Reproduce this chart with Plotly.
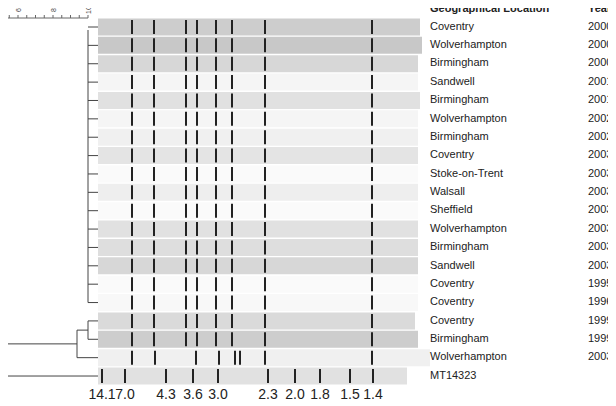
import plotly.graph_objects as go

## Lane info, top to bottom
locations = ['Coventry', 'Wolverhampton', 'Birmingham', 'Sandwell', 'Birmingham', 'Wolverhampton',
             'Birmingham', 'Coventry', 'Stoke-on-Trent', 'Walsall', 'Sheffield', 'Wolverhampton',
             'Birmingham', 'Sandwell', 'Coventry', 'Coventry', 'Coventry', 'Birmingham',
             'Wolverhampton', 'MT14323']
years = ['2000', '2000', '2000', '2001', '2001', '2002', '2002', '2003', '2003', '2003', '2003',
         '2003', '2003', '2003', '1995', '1996', '1999', '1999', '2003', '']
lane_shade = [205, 200, 215, 245, 225, 245, 240, 228, 250, 238, 250, 225, 222, 215, 250, 248,
              218, 205, 240, 225]
lane_end = [420, 422, 418, 418, 420, 418, 418, 418, 418, 418, 418, 418, 418, 418, 418, 418, 415,
            418, 430, 407]

common_bands = [132, 154, 186, 197, 216, 232, 265, 372]
lane_bands = [common_bands] * 18 + [[132, 155, 196, 219, 235, 240, 265, 372],
                                    [102, 125, 166, 193, 218, 268, 295, 320, 350, 373]]

ladder_labels = ['14.1', '7.0', '4.3', '3.6', '3.0', '2.3', '2.0', '1.8', '1.5', '1.4']
ladder_pos = [102, 125, 166, 193, 218, 268, 295, 320, 350, 373]

scale_labels = ['60', '80', '100']
scale_pos = [18, 53, 88]

row_y = [27 + i * 18.37 for i in range(len(locations))]

fig = go.Figure()

## gel lanes
for i, y in enumerate(row_y):
    g = lane_shade[i]
    fig.add_trace(go.Scatter(x=[98, lane_end[i]], y=[y, y], mode='lines',
                             line=dict(color=f'rgb({g},{g},{g})', width=17), hoverinfo='skip'))
    bx, by = [], []
    for b in lane_bands[i]:
        bx += [b, b, None]
        by += [y - 7, y + 7, None]
    fig.add_trace(go.Scatter(x=bx, y=by, mode='lines', line=dict(color='#222', width=2),
                             hoverinfo='skip'))

## dendrogram
dx, dy = [], []
for y in row_y[:19]:
    dx += [88, 98, None]
    dy += [y, y, None]
dx += [88, 88, None, 88, 88, None, 77, 88, None, 77, 88, None, 77, 77, None]
dy += [30, row_y[15], None, row_y[16], row_y[17], None, (row_y[16] + row_y[17]) / 2,
       (row_y[16] + row_y[17]) / 2, None, row_y[18], row_y[18], None,
       (row_y[16] + row_y[17]) / 2, row_y[18], None]
mid = ((row_y[16] + row_y[17]) / 2 + row_y[18]) / 2
dx += [3, 77, None, 3, 3, None, 3, 98, None]
dy += [mid, mid, None, mid, row_y[19], None, row_y[19], row_y[19], None]
fig.add_trace(go.Scatter(x=dx, y=dy, mode='lines', line=dict(color='#444', width=1),
                         hoverinfo='skip'))

## similarity scale
sx, sy = [3, 88, None], [18, 18, None]
for k in range(11):
    t = 88 - k * 8.75
    if t >= 3:
        sx += [t, t, None]
        sy += [18, 15, None]
fig.add_trace(go.Scatter(x=sx, y=sy, mode='lines', line=dict(color='#666', width=1),
                         hoverinfo='skip'))
for p, s in zip(scale_pos, scale_labels):
    fig.add_annotation(x=p, y=8, text=s, textangle=-90, showarrow=False,
                       font=dict(size=7, color='#444', family='Arial'))

## labels
fig.add_trace(go.Scatter(x=[430] * len(locations), y=row_y, mode='text', text=locations,
                         textposition='middle right',
                         textfont=dict(size=11, color='#222', family='Arial')))
fig.add_trace(go.Scatter(x=[588] * len(years), y=row_y, mode='text', text=years,
                         textposition='middle right',
                         textfont=dict(size=11, color='#222', family='Arial')))
fig.add_trace(go.Scatter(x=[430, 588], y=[9, 9], mode='text',
                         text=['<b>Geographical Location</b>', '<b>Year</b>'],
                         textposition='middle right',
                         textfont=dict(size=11, color='#222', family='Arial')))
fig.add_trace(go.Scatter(x=ladder_pos, y=[395] * len(ladder_pos), mode='text',
                         text=ladder_labels,
                         textfont=dict(size=14, color='#222', family='Arial')))

## the page body has an 8px margin, so offset the ranges to keep page pixels as data units
fig.update_layout(width=616, height=406, margin=dict(l=0, r=0, t=0, b=0), showlegend=False,
                  plot_bgcolor='white', paper_bgcolor='white')
fig.update_xaxes(range=[8, 624], visible=False)
fig.update_yaxes(range=[414, 8], visible=False)
fig.write_html('out.html')
